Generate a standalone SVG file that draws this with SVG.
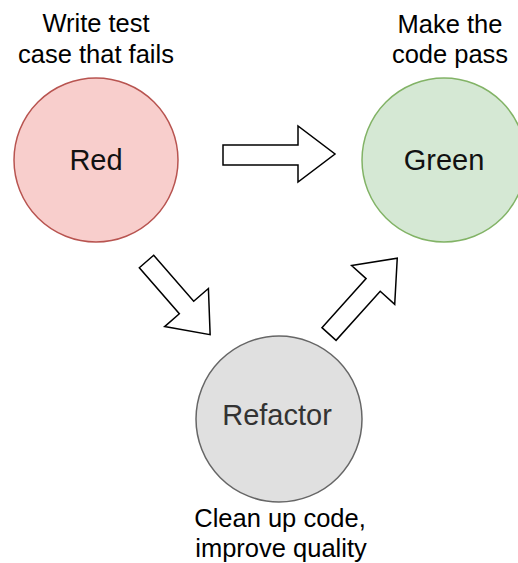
<svg xmlns="http://www.w3.org/2000/svg" width="518" height="563" viewBox="0 0 518 563">
<style>
text{font-family:"Liberation Sans",Arial,sans-serif;text-anchor:middle}
.lbl{font-size:25.5px;fill:#000}
.nm{font-size:29px;fill:#111}
.arr{fill:#fff;stroke:#000;stroke-width:1.5;stroke-linejoin:miter}
</style>
<defs>
<polygon id="arrow" points="0,-10 -36,-10 -36,-28 0,0 -36,28 -36,10 0,10" />
</defs>
<rect width="518" height="563" fill="#fff"/>
<g id="red">
<circle cx="96" cy="160" r="82" fill="#f8cecc" stroke="#b85450" stroke-width="1.5"/>
<text class="nm" x="96" y="170">Red</text>
<text class="lbl" x="96" y="32">Write test</text>
<text class="lbl" x="96" y="63">case that fails</text>
</g>
<g id="green">
<circle cx="444" cy="160" r="82" fill="#d5e8d4" stroke="#82b366" stroke-width="1.5"/>
<text class="nm" x="444" y="170">Green</text>
<text class="lbl" x="450" y="33">Make the</text>
<text class="lbl" x="450" y="63">code pass</text>
</g>
<g id="refactor">
<circle cx="279" cy="419" r="83" fill="#e0e0e0" stroke="#666666" stroke-width="1.5"/>
<text class="nm" x="277" y="425" style="fill:#333">Refactor</text>
<text class="lbl" x="280" y="527">Clean up code,</text>
<text class="lbl" x="281" y="557">improve quality</text>
</g>
<g id="connectors">
<polygon class="arr" points="223,145 298,145 298,126 335,154 298,182 298,165 223,165"/>
<polygon class="arr" transform="translate(146.5,261.5) rotate(49)" points="0,-9.5 61,-9.5 61,-29 97,0 61,29 61,9.5 0,9.5"/>
<polygon class="arr" transform="translate(329,334) rotate(-48)" points="0,-9.5 66,-9.5 66,-29 102,0 66,29 66,9.5 0,9.5"/>
</g>
</svg>
